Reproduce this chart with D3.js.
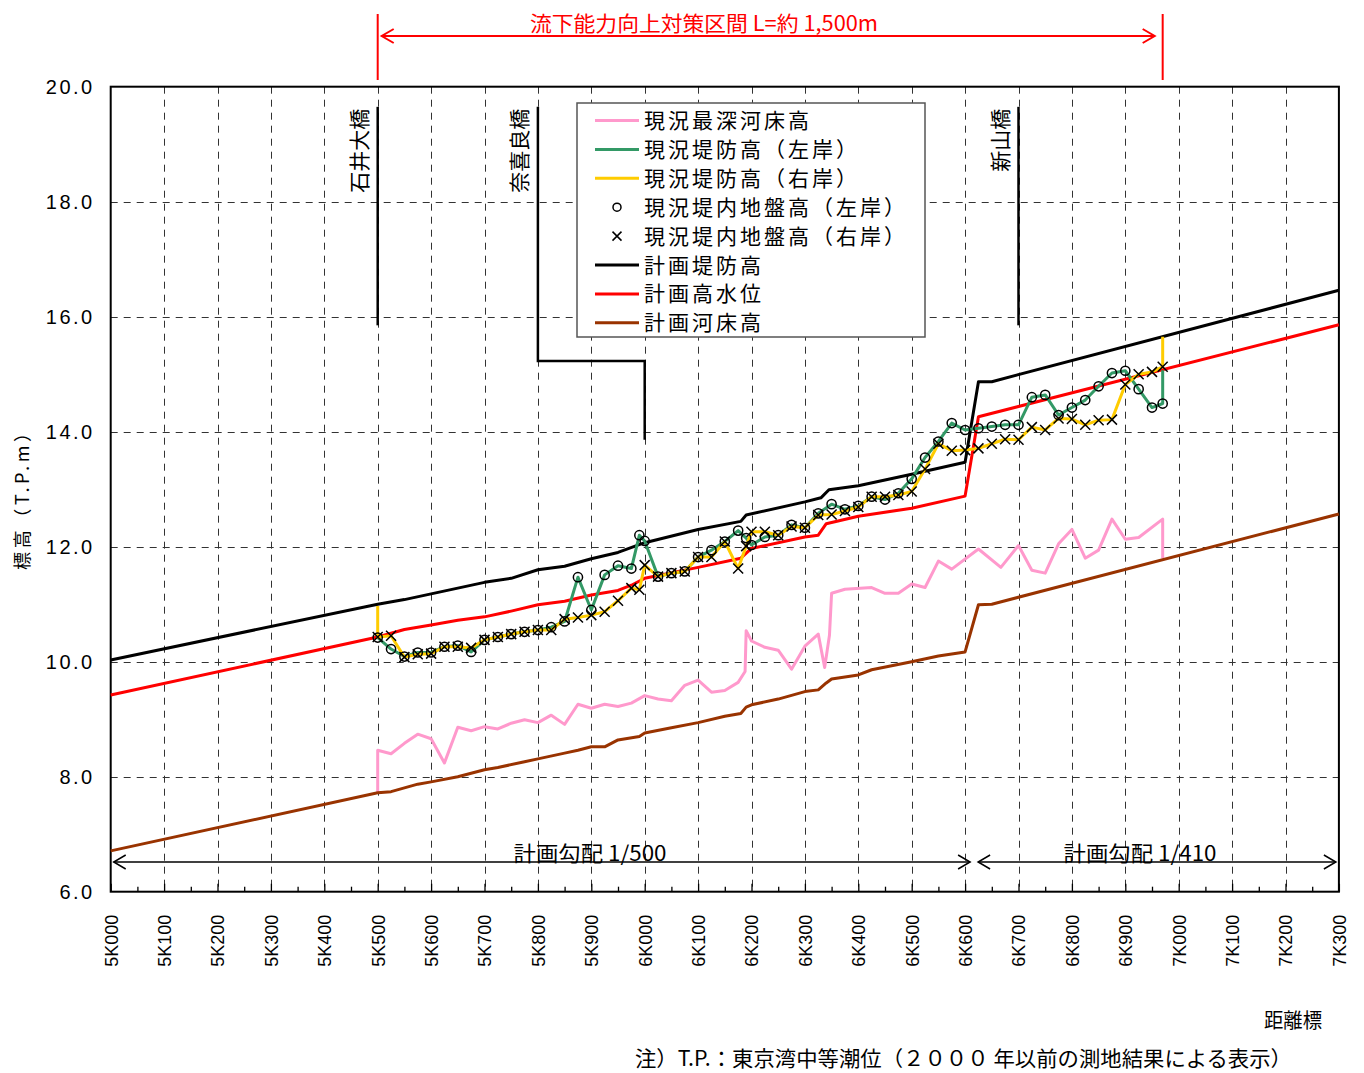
<!DOCTYPE html>
<html>
<head>
<meta charset="utf-8">
<script src="https://cdn.jsdelivr.net/npm/d3@7"></script>
<style>
  html, body { margin: 0; padding: 0; background: #fff; }
  svg { display: block; }
  .jp { font-family: "Noto Sans CJK JP", "Noto Sans", sans-serif; }
  .num { font-family: "Liberation Sans", Arial, sans-serif; }
</style>
</head>
<body>
<svg id="chart" width="1364" height="1073"></svg>
<script>
// ---- distance marks (km) and labels ----
const kmTicks = d3.range(24).map(i => +(5 + i * 0.1).toFixed(1));
const kmLabels = ["5K000","5K100","5K200","5K300","5K400","5K500","5K600","5K700","5K800","5K900",
                  "6K000","6K100","6K200","6K300","6K400","6K500","6K600","6K700","6K800","6K900",
                  "7K000","7K100","7K200","7K300"];
const kmMinor = d3.range(23).map(i => +(5.05 + i * 0.1).toFixed(2));
const levelTicks = [6, 8, 10, 12, 14, 16, 18, 20];
const levelLabels = ["6.0","8.0","10.0","12.0","14.0","16.0","18.0","20.0"];

// ---- plan profiles ----
const planLeveeKm  = [5.0, 5.5, 5.55, 5.6, 5.7, 5.75, 5.8, 5.85, 5.9, 5.95, 6.0, 6.1, 6.18, 6.19, 6.3, 6.33, 6.345, 6.4, 6.5, 6.6, 6.625, 6.65, 7.3];
const planLeveeVal = [10.03, 11.0, 11.08, 11.18, 11.38, 11.45, 11.6, 11.66, 11.79, 11.9, 12.07, 12.3, 12.44, 12.55, 12.78, 12.85, 12.99, 13.06, 13.26, 13.47, 14.87, 14.87, 16.46];

const planHwlKm  = [5.0, 5.5, 5.55, 5.6, 5.65, 5.7, 5.75, 5.8, 5.85, 5.9, 5.95, 5.975, 6.0, 6.1, 6.18, 6.2, 6.3, 6.325, 6.34, 6.4, 6.5, 6.6, 6.625, 7.3];
const planHwlVal = [9.42, 10.43, 10.56, 10.64, 10.72, 10.78, 10.88, 10.99, 11.05, 11.16, 11.24, 11.33, 11.45, 11.64, 11.8, 11.97, 12.17, 12.2, 12.4, 12.53, 12.67, 12.88, 14.26, 15.86];

const planBedKm  = [5.0, 5.5, 5.525, 5.575, 5.6, 5.65, 5.7, 5.725, 5.775, 5.8, 5.85, 5.875, 5.9, 5.925, 5.95, 5.99, 6.0, 6.05, 6.1, 6.15,
                    6.18, 6.19, 6.2, 6.25, 6.3, 6.325, 6.34, 6.35, 6.4, 6.425, 6.5, 6.55, 6.6, 6.625, 6.65, 7.3];
const planBedVal = [6.71, 7.72, 7.74, 7.87, 7.91, 8.0, 8.12, 8.16, 8.26, 8.31, 8.41, 8.46, 8.52, 8.52, 8.64, 8.7, 8.76, 8.85, 8.94, 9.05,
                    9.1, 9.21, 9.25, 9.35, 9.48, 9.51, 9.63, 9.7, 9.77, 9.86, 10.0, 10.1, 10.17, 10.99, 11.0, 12.57];

// ---- present deepest riverbed ----
const riverbedKm  = [5.5, 5.5, 5.525, 5.55, 5.575, 5.6, 5.625, 5.65, 5.675, 5.7, 5.725, 5.75, 5.775, 5.8, 5.825, 5.85, 5.875, 5.9, 5.925, 5.95,
                     5.975, 6.0, 6.025, 6.05, 6.075, 6.1, 6.125, 6.15, 6.175, 6.188, 6.19, 6.2, 6.225, 6.25, 6.275, 6.3, 6.325, 6.337, 6.346, 6.35,
                     6.375, 6.425, 6.45, 6.475, 6.5, 6.525, 6.55, 6.575, 6.625, 6.667, 6.7, 6.725, 6.75, 6.775, 6.8, 6.825, 6.85, 6.875, 6.9, 6.925,
                     6.97, 6.97];
const riverbedVal = [7.72, 8.46, 8.40, 8.58, 8.74, 8.66, 8.24, 8.86, 8.80, 8.87, 8.83, 8.93, 8.99, 8.94, 9.07, 8.91, 9.26, 9.19, 9.26, 9.22,
                     9.28, 9.41, 9.35, 9.32, 9.59, 9.68, 9.47, 9.50, 9.64, 9.83, 10.54, 10.36, 10.25, 10.20, 9.87, 10.27, 10.48, 9.90, 10.46, 11.19,
                     11.26, 11.29, 11.19, 11.19, 11.35, 11.29, 11.75, 11.61, 11.96, 11.64, 12.02, 11.59, 11.54, 12.05, 12.30, 11.80, 11.94, 12.48, 12.13, 12.16,
                     12.48, 11.80];

// ---- survey stations: present ground / levee heights ----
const stations = [5.5, 5.525, 5.55, 5.575, 5.6, 5.625, 5.65, 5.675, 5.7, 5.725, 5.75, 5.775, 5.8, 5.825, 5.85, 5.875, 5.9, 5.925, 5.95, 5.975,
                  5.99,
                  6.0, 6.025, 6.05, 6.075, 6.1, 6.125, 6.15, 6.175,
                  6.19,
                  6.2, 6.225, 6.25, 6.275, 6.3, 6.325, 6.35, 6.375, 6.4, 6.425, 6.45, 6.475, 6.5, 6.525, 6.55, 6.575, 6.6, 6.625, 6.65, 6.675,
                  6.7, 6.725, 6.75, 6.775, 6.8, 6.825, 6.85, 6.875, 6.9, 6.925, 6.95,
                  6.97];
const groundLeft  = [10.42, 10.22, 10.09, 10.16, 10.16, 10.26, 10.28, 10.17, 10.38, 10.43, 10.48, 10.52, 10.55, 10.60, 10.70, 11.47, 10.90, 11.51, 11.67, 11.62,
                     12.20,
                     12.10, 11.48, 11.54, 11.57, 11.82, 11.94, 12.09, 12.28,
                     12.15,
                     12.03, 12.17, 12.20, 12.38, 12.33, 12.58, 12.74, 12.65, 12.71, 12.87, 12.82, 12.93, 13.18, 13.55, 13.83, 14.15, 14.03, 14.06, 14.09, 14.12,
                     14.12, 14.60, 14.64, 14.29, 14.42, 14.55, 14.79, 15.02, 15.06, 14.74, 14.42,
                     14.49];
const groundRight = [10.43, 10.45, 10.08, 10.13, 10.14, 10.26, 10.26, 10.24, 10.38, 10.43, 10.48, 10.52, 10.55, 10.55, 10.74, 10.77, 10.81, 10.87, 11.06, 11.28,
                     11.25,
                     11.68, 11.48, 11.54, 11.57, 11.82, 11.82, 12.09, 11.62,
                     12.01,
                     12.26, 12.26, 12.20, 12.35, 12.33, 12.55, 12.56, 12.62, 12.69, 12.87, 12.87, 12.90, 12.96, 13.35, 13.79, 13.67, 13.68, 13.71, 13.79, 13.87,
                     13.86, 14.08, 14.03, 14.23, 14.22, 14.12, 14.20, 14.21, 14.82, 15.00, 15.04,
                     15.13];
// levee crowns follow the ground points, with the section end values added
const leveeLeftEnd   = [6.97, 15.07];
const leveeRightStart = [5.5, 10.97];
const leveeRightEnd   = [6.97, 15.65];

// ---- bridges ----
const bridgeNames = ["石井大橋", "奈喜良橋", "新山橋"];
const bridgeKm    = [5.5, 5.8, 6.7];

// ---- section / gradients ----
const sectionKm = [5.5, 6.97];
const sectionLabel = "流下能力向上対策区間 L=約 1,500m";
const gradientKm = [[5.0, 6.6], [6.6, 7.3]];
const gradientLabels = ["計画勾配 1/500", "計画勾配 1/410"];

const legendLabels = ["現況最深河床高", "現況堤防高（左岸）", "現況堤防高（右岸）", "現況堤内地盤高（左岸）",
                      "現況堤内地盤高（右岸）", "計画堤防高", "計画高水位", "計画河床高"];

// ---- colours ----
const C = { pink: "#ff99cc", green: "#339966", yellow: "#ffcc00", black: "#000000", red: "#ff0000", brown: "#993300" };

const svg = d3.select("#chart");
const x = d3.scaleLinear().domain([5.0, 7.3]).range([110.7, 1338.9]);
const y = d3.scaleLinear().domain([6, 20]).range([891.7, 86.7]);
const px = v => Math.round(v) + 0.5;

// grid
const grid = svg.append("g").attr("stroke", "#333").attr("stroke-width", 1).attr("stroke-dasharray", "7,6");
grid.selectAll("line.v").data(kmTicks.slice(1, -1)).join("line").attr("class", "v")
  .attr("x1", d => px(x(d))).attr("x2", d => px(x(d))).attr("y1", y(20)).attr("y2", y(6));
grid.selectAll("line.h").data(levelTicks.slice(1, -1)).join("line").attr("class", "h")
  .attr("y1", d => px(y(d))).attr("y2", d => px(y(d))).attr("x1", x(5)).attr("x2", x(7.3));

// axes
const xAxis = d3.axisBottom(x).tickValues(kmTicks).tickFormat((d, i) => kmLabels[i])
  .tickSizeInner(-8).tickSizeOuter(0);
const gx = svg.append("g").attr("transform", `translate(0,${y(6)})`).call(xAxis);
gx.select(".domain").remove();
gx.selectAll(".tick line").attr("stroke", "#000").attr("stroke-width", 1.3);
gx.selectAll(".tick text")
  .attr("class", "num").attr("x", 0).attr("y", 0).attr("dy", "0.36em")
  .attr("transform", "translate(0,23) rotate(-90)")
  .attr("text-anchor", "end").attr("font-size", 18).attr("fill", "#000");

const xMinor = d3.axisBottom(x).tickValues(kmMinor).tickFormat("").tickSizeInner(-5).tickSizeOuter(0);
const gxm = svg.append("g").attr("transform", `translate(0,${y(6)})`).call(xMinor);
gxm.select(".domain").remove();
gxm.selectAll(".tick line").attr("stroke", "#000").attr("stroke-width", 1.3);

const yAxis = d3.axisLeft(y).tickValues(levelTicks).tickFormat((d, i) => levelLabels[i]).tickSize(0).tickPadding(16);
const gy = svg.append("g").attr("transform", `translate(${x(5)},0)`).call(yAxis);
gy.select(".domain").remove();
gy.selectAll(".tick text").attr("class", "num").attr("font-size", 20).attr("letter-spacing", "2.5px")
  .attr("fill", "#000").attr("dy", "0.36em");

// frame
svg.append("rect").attr("x", x(5)).attr("y", y(20)).attr("width", x(7.3) - x(5)).attr("height", y(6) - y(20))
  .attr("fill", "none").attr("stroke", "#000").attr("stroke-width", 2);

// profiles
const line = d3.line().x(d => x(d[0])).y(d => y(d[1]));
const zip = (a, b) => a.map((v, i) => [v, b[i]]);
const drawLine = (pts, color, w) => svg.append("path").datum(pts).attr("d", line)
  .attr("fill", "none").attr("stroke", color).attr("stroke-width", w).attr("stroke-linejoin", "round");

drawLine(zip(riverbedKm, riverbedVal), C.pink, 3);
drawLine(zip(planBedKm, planBedVal), C.brown, 3);
drawLine(zip(planLeveeKm, planLeveeVal), C.black, 3);
drawLine(zip(planHwlKm, planHwlVal), C.red, 3);
drawLine([...zip(stations, groundLeft), leveeLeftEnd], C.green, 3);
drawLine([leveeRightStart, ...zip(stations, groundRight), leveeRightEnd], C.yellow, 3);

// bridges
const bTop = 19.65, bBottom = 15.85;
const bridgePaths = [
  [[bridgeKm[0], bTop], [bridgeKm[0], bBottom]],
  [[bridgeKm[1], bTop], [bridgeKm[1], 15.23], [6.0, 15.23], [6.0, 13.86]],
  [[bridgeKm[2], bTop], [bridgeKm[2], bBottom]]
];
bridgePaths.forEach(p => svg.append("path").datum(p).attr("d", line).attr("fill", "none")
  .attr("stroke", "#000").attr("stroke-width", 2.5));
bridgeNames.forEach((n, i) => {
  svg.append("text").attr("class", "jp")
    .attr("transform", `translate(${x(bridgeKm[i]) - 18},${y(bTop) + 2}) rotate(-90)`)
    .attr("text-anchor", "end").attr("dy", "0.36em").attr("font-size", 21).attr("fill", "#000").text(n);
});

// markers
svg.append("g").selectAll("circle").data(zip(stations, groundLeft)).join("circle")
  .attr("cx", d => x(d[0])).attr("cy", d => y(d[1])).attr("r", 4.6)
  .attr("fill", "none").attr("stroke", "#000").attr("stroke-width", 1.5);
const crossPath = "M-5,-5L5,5M-5,5L5,-5";
svg.append("g").selectAll("path").data(zip(stations, groundRight)).join("path")
  .attr("transform", d => `translate(${x(d[0])},${y(d[1])})`).attr("d", crossPath)
  .attr("stroke", "#000").attr("stroke-width", 1.5);

// legend
const lg = svg.append("g");
lg.append("rect").attr("x", 577).attr("y", 103).attr("width", 348).attr("height", 234)
  .attr("fill", "#fff").attr("stroke", "#555").attr("stroke-width", 1.5);
const legendStyle = [
  { t: "line", c: C.pink }, { t: "line", c: C.green }, { t: "line", c: C.yellow },
  { t: "circle" }, { t: "cross" },
  { t: "line", c: C.black }, { t: "line", c: C.red }, { t: "line", c: C.brown }
];
legendLabels.forEach((lab, i) => {
  const cy = 120.5 + i * 28.9;
  const s = legendStyle[i];
  if (s.t === "line") {
    lg.append("line").attr("x1", 595).attr("x2", 639).attr("y1", cy).attr("y2", cy)
      .attr("stroke", s.c).attr("stroke-width", 3);
  } else if (s.t === "circle") {
    lg.append("circle").attr("cx", 617).attr("cy", cy).attr("r", 4).attr("fill", "none")
      .attr("stroke", "#000").attr("stroke-width", 1.5);
  } else {
    lg.append("path").attr("transform", `translate(617,${cy})`).attr("d", "M-4.5,-4.5L4.5,4.5M-4.5,4.5L4.5,-4.5")
      .attr("stroke", "#000").attr("stroke-width", 1.5);
  }
  lg.append("text").attr("class", "jp").attr("x", 644).attr("y", cy).attr("dy", "0.36em")
    .attr("font-size", 21).attr("letter-spacing", "3px").attr("fill", "#000").text(lab);
});

// section arrow (red)
const redG = svg.append("g").attr("stroke", C.red).attr("stroke-width", 2).attr("fill", "none");
const sx0 = x(sectionKm[0]), sx1 = x(sectionKm[1]), sy = 36;
redG.append("line").attr("x1", sx0).attr("x2", sx0).attr("y1", 14).attr("y2", 80);
redG.append("line").attr("x1", sx1).attr("x2", sx1).attr("y1", 14).attr("y2", 80);
redG.append("line").attr("x1", sx0 + 4).attr("x2", sx1 - 8).attr("y1", sy).attr("y2", sy);
redG.append("path").attr("d", `M${sx0 + 16},${sy - 7}L${sx0 + 4},${sy}L${sx0 + 16},${sy + 7}`);
redG.append("path").attr("d", `M${sx1 - 20},${sy - 7}L${sx1 - 8},${sy}L${sx1 - 20},${sy + 7}`);
svg.append("text").attr("class", "jp").attr("x", 704).attr("y", 31).attr("text-anchor", "middle")
  .attr("font-size", 21).attr("fill", C.red).attr("textLength", 348).attr("lengthAdjust", "spacingAndGlyphs")
  .text(sectionLabel);

// gradient arrows
const gy0 = 862;
const gradG = svg.append("g").attr("stroke", "#000").attr("stroke-width", 1.5).attr("fill", "none");
const gradEnds = [[x(gradientKm[0][0]) + 3, x(gradientKm[0][1]) + 5], [x(gradientKm[1][0]) + 13, x(gradientKm[1][1]) - 3]];
gradEnds.forEach(([a, b], i) => {
  gradG.append("line").attr("x1", a).attr("x2", b).attr("y1", gy0).attr("y2", gy0);
  gradG.append("path").attr("d", `M${a + 12},${gy0 - 7}L${a},${gy0}L${a + 12},${gy0 + 7}`);
  gradG.append("path").attr("d", `M${b - 12},${gy0 - 7}L${b},${gy0}L${b - 12},${gy0 + 7}`);
  svg.append("text").attr("class", "jp").attr("x", (i === 0 ? 590 : 1140)).attr("y", gy0 - 1)
    .attr("text-anchor", "middle").attr("font-size", 21).attr("fill", "#000")
    .attr("textLength", 153).attr("lengthAdjust", "spacingAndGlyphs").text(gradientLabels[i]);
});

// axis titles and note
svg.append("text").attr("class", "jp").attr("transform", "translate(23,497) rotate(-90)")
  .attr("text-anchor", "middle").attr("dy", "0.36em").attr("font-size", 18).attr("fill", "#000")
  .attr("textLength", 146).attr("lengthAdjust", "spacing").text("標高（T.P.m）");
svg.append("text").attr("class", "jp").attr("x", 1322).attr("y", 1028).attr("text-anchor", "end")
  .attr("font-size", 20).attr("fill", "#000").attr("textLength", 58).attr("lengthAdjust", "spacingAndGlyphs").text("距離標");
svg.append("text").attr("class", "jp").attr("x", 635).attr("y", 1066)
  .attr("font-size", 21).attr("fill", "#000").attr("textLength", 657).attr("lengthAdjust", "spacingAndGlyphs")
  .text("注）T.P.：東京湾中等潮位（２０００ 年以前の測地結果による表示）");
</script>
</body>
</html>
